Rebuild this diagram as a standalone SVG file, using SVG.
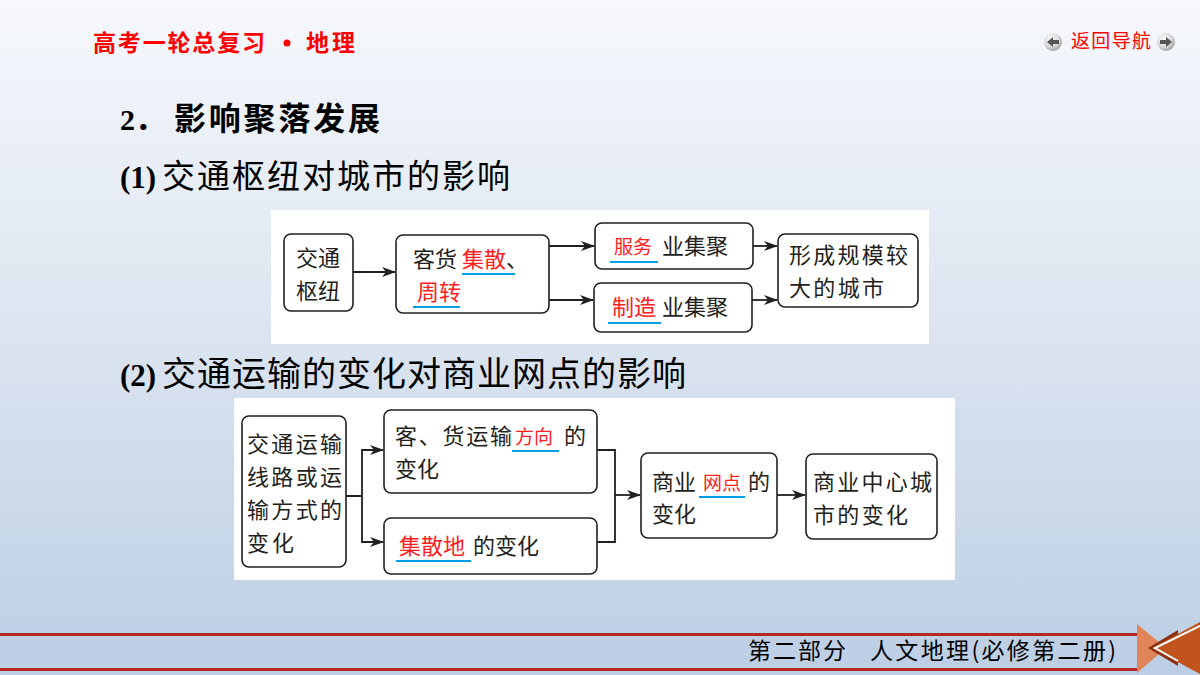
<svg xmlns="http://www.w3.org/2000/svg" width="1200" height="675" viewBox="0 0 1200 675">
<defs>
<linearGradient id="bg" x1="0" y1="0" x2="0" y2="1">
<stop offset="0" stop-color="#f6f8fc"/>
<stop offset="0.5" stop-color="#dbe4f0"/>
<stop offset="1" stop-color="#bccee5"/>
</linearGradient>
<radialGradient id="btn" cx="0.4" cy="0.35" r="0.7">
<stop offset="0" stop-color="#ffffff"/>
<stop offset="0.6" stop-color="#d8d8d8"/>
<stop offset="1" stop-color="#9a9a9a"/>
</radialGradient>
<marker id="ah" viewBox="0 0 14 10" refX="13" refY="5" markerWidth="14" markerHeight="10" markerUnits="userSpaceOnUse" orient="auto">
<path d="M0,0 L14,5 L0,10 L4,5 Z" fill="#231f20"/>
</marker>
<style>
.box{fill:#fff;stroke:#231f20;stroke-width:1.6}
.t{font-family:"Noto Sans CJK SC","Liberation Sans",sans-serif;font-size:22px;fill:#231f20}
.r{fill:#ff2020}
.rs{fill:#ff2020;font-size:19px}
.ul{stroke:#00a0e9;stroke-width:2}
.c{fill:none;stroke:#231f20;stroke-width:1.8}
.h{font-family:"Liberation Serif","Noto Sans CJK SC",serif;font-weight:bold;fill:#000}
.f{font-family:"Noto Sans CJK SC",sans-serif;font-size:23px;fill:#000}
</style>
</defs>
<rect width="1200" height="675" fill="url(#bg)"/>

<g id="header">
<text x="93" y="51" font-family="Noto Sans CJK SC,sans-serif" font-weight="bold" font-size="23" fill="#ff0000" textLength="172" lengthAdjust="spacing">高考一轮总复习</text>
<circle cx="287" cy="43" r="3.5" fill="#ff0000"/>
<text x="306" y="51" font-family="Noto Sans CJK SC,sans-serif" font-weight="bold" font-size="23" fill="#ff0000" textLength="49" lengthAdjust="spacing">地理</text>
</g>

<g id="nav">
<circle cx="1053" cy="42" r="9" fill="url(#btn)"/>
<path d="M1047,42 L1053,37 L1053,40 L1059,40 L1059,44 L1053,44 L1053,47 Z" fill="#555"/>
<text x="1071" y="48" font-family="Noto Sans CJK SC,sans-serif" font-size="19" fill="#ff0000" textLength="80" lengthAdjust="spacing">返回导航</text>
<circle cx="1166" cy="42" r="9" fill="url(#btn)"/>
<path d="M1172,42 L1166,37 L1166,40 L1160,40 L1160,44 L1166,44 L1166,47 Z" fill="#555"/>
</g>

<g id="titles">
<text class="h" x="120" y="130" font-size="30">2．<tspan x="174" textLength="206" lengthAdjust="spacing" font-size="32">影响聚落发展</tspan></text>
<text class="h" x="120" y="188" font-size="31">(1)<tspan x="162" textLength="348" lengthAdjust="spacing" font-size="33" font-weight="normal" font-family="Noto Sans CJK SC,sans-serif">交通枢纽对城市的影响</tspan></text>
<text class="h" x="120" y="386" font-size="31">(2)<tspan x="162" textLength="524" lengthAdjust="spacing" font-size="34" font-weight="normal" font-family="Noto Sans CJK SC,sans-serif">交通运输的变化对商业网点的影响</tspan></text>
</g>

<rect id="panel1" x="271" y="210" width="658" height="134" fill="#fff"/>
<rect id="panel2" x="234" y="398" width="721" height="182" fill="#fff"/>

<g id="connectors">
<line class="c" x1="353" y1="272" x2="395" y2="272" marker-end="url(#ah)"/>
<line class="c" x1="549" y1="246" x2="594" y2="246" marker-end="url(#ah)"/>
<line class="c" x1="549" y1="300" x2="593" y2="300" marker-end="url(#ah)"/>
<line class="c" x1="753" y1="246" x2="777" y2="246" marker-end="url(#ah)"/>
<line class="c" x1="752" y1="300" x2="777" y2="300" marker-end="url(#ah)"/>
<path class="c" d="M346,496 H362 V450 H383" marker-end="url(#ah)"/>
<path class="c" d="M362,496 V542 H383" marker-end="url(#ah)"/>
<path class="c" d="M597,450 H615 V542 H597"/>
<line class="c" x1="615" y1="495" x2="640" y2="495" marker-end="url(#ah)"/>
<line class="c" x1="777" y1="495" x2="805" y2="495" marker-end="url(#ah)"/>
</g>

<g id="n-hub">
<rect class="box" x="284" y="234" width="69" height="77" rx="7"/>
<text class="t" x="296" y="266">交通</text>
<text class="t" x="296" y="299">枢纽</text>
</g>
<g id="n-cargo">
<rect class="box" x="396" y="235" width="153" height="78" rx="7"/>
<text class="t" x="413" y="267">客货 <tspan class="r">集散</tspan>、</text>
<line class="ul" x1="462" y1="274" x2="515" y2="274"/>
<text class="t" x="417" y="300"><tspan class="r">周转</tspan></text>
<line class="ul" x1="413" y1="307" x2="460" y2="307"/>
</g>
<g id="n-service">
<rect class="box" x="595" y="223" width="158" height="46" rx="7"/>
<text class="t" x="614" y="254"><tspan class="rs">服务</tspan><tspan x="662">业集聚</tspan></text>
<line class="ul" x1="610" y1="262" x2="658" y2="262"/>
</g>
<g id="n-manu">
<rect class="box" x="594" y="283" width="158" height="49" rx="7"/>
<text class="t" x="612" y="315"><tspan class="r">制造</tspan><tspan x="662">业集聚</tspan></text>
<line class="ul" x1="608" y1="323" x2="661" y2="323"/>
</g>
<g id="n-city">
<rect class="box" x="778" y="234" width="140" height="73" rx="7"/>
<text class="t" x="789" y="263" textLength="119" lengthAdjust="spacing">形成规模较</text>
<text class="t" x="789" y="296" textLength="95" lengthAdjust="spacing">大的城市</text>
</g>

<g id="n-transport">
<rect class="box" x="242" y="416" width="104" height="151" rx="7"/>
<text class="t" x="247" y="452" textLength="95" lengthAdjust="spacing">交通运输</text>
<text class="t" x="247" y="485" textLength="95" lengthAdjust="spacing">线路或运</text>
<text class="t" x="247" y="518" textLength="95" lengthAdjust="spacing">输方式的</text>
<text class="t" x="247" y="551" textLength="47" lengthAdjust="spacing">变化</text>
</g>
<g id="n-direction">
<rect class="box" x="384" y="410" width="213" height="83" rx="7"/>
<text class="t" x="395" y="444"><tspan textLength="117" lengthAdjust="spacing">客、货运输</tspan><tspan class="rs" x="515">方向</tspan><tspan x="564">的</tspan></text>
<line class="ul" x1="512" y1="451" x2="559" y2="451"/>
<text class="t" x="395" y="477">变化</text>
</g>
<g id="n-distrib">
<rect class="box" x="384" y="518" width="213" height="56" rx="7"/>
<text class="t" x="399" y="554"><tspan class="r">集散地</tspan><tspan x="473">的变化</tspan></text>
<line class="ul" x1="396" y1="561" x2="471" y2="561"/>
</g>
<g id="n-outlet">
<rect class="box" x="641" y="453" width="136" height="85" rx="7"/>
<text class="t" x="652" y="490">商业<tspan class="rs" x="703">网点</tspan><tspan x="748">的</tspan></text>
<line class="ul" x1="699" y1="497" x2="745" y2="497"/>
<text class="t" x="652" y="522">变化</text>
</g>
<g id="n-center">
<rect class="box" x="806" y="454" width="131" height="85" rx="7"/>
<text class="t" x="813" y="490" textLength="119" lengthAdjust="spacing">商业中心城</text>
<text class="t" x="813" y="523" textLength="95" lengthAdjust="spacing">市的变化</text>
</g>

<g id="footer">
<rect x="0" y="633" width="1138" height="3" fill="#b22a22"/>
<rect x="0" y="668" width="1138" height="3" fill="#b22a22"/>
<text class="f" x="748" y="659" textLength="98" lengthAdjust="spacing">第二部分</text>
<text class="f" x="870" y="659" textLength="246" lengthAdjust="spacing">人文地理(必修第二册)</text>
<polygon points="1137,624 1166,648 1137,673" fill="#e0855a"/>
<polygon points="1148,648 1178,630 1178,666" fill="#8a3210"/>
<polygon points="1152,648 1200,622 1200,674" fill="#c0531e"/>
<polyline points="1200,626 1155,648 1178,661" fill="none" stroke="#fff" stroke-width="2"/>
</g>
</svg>
